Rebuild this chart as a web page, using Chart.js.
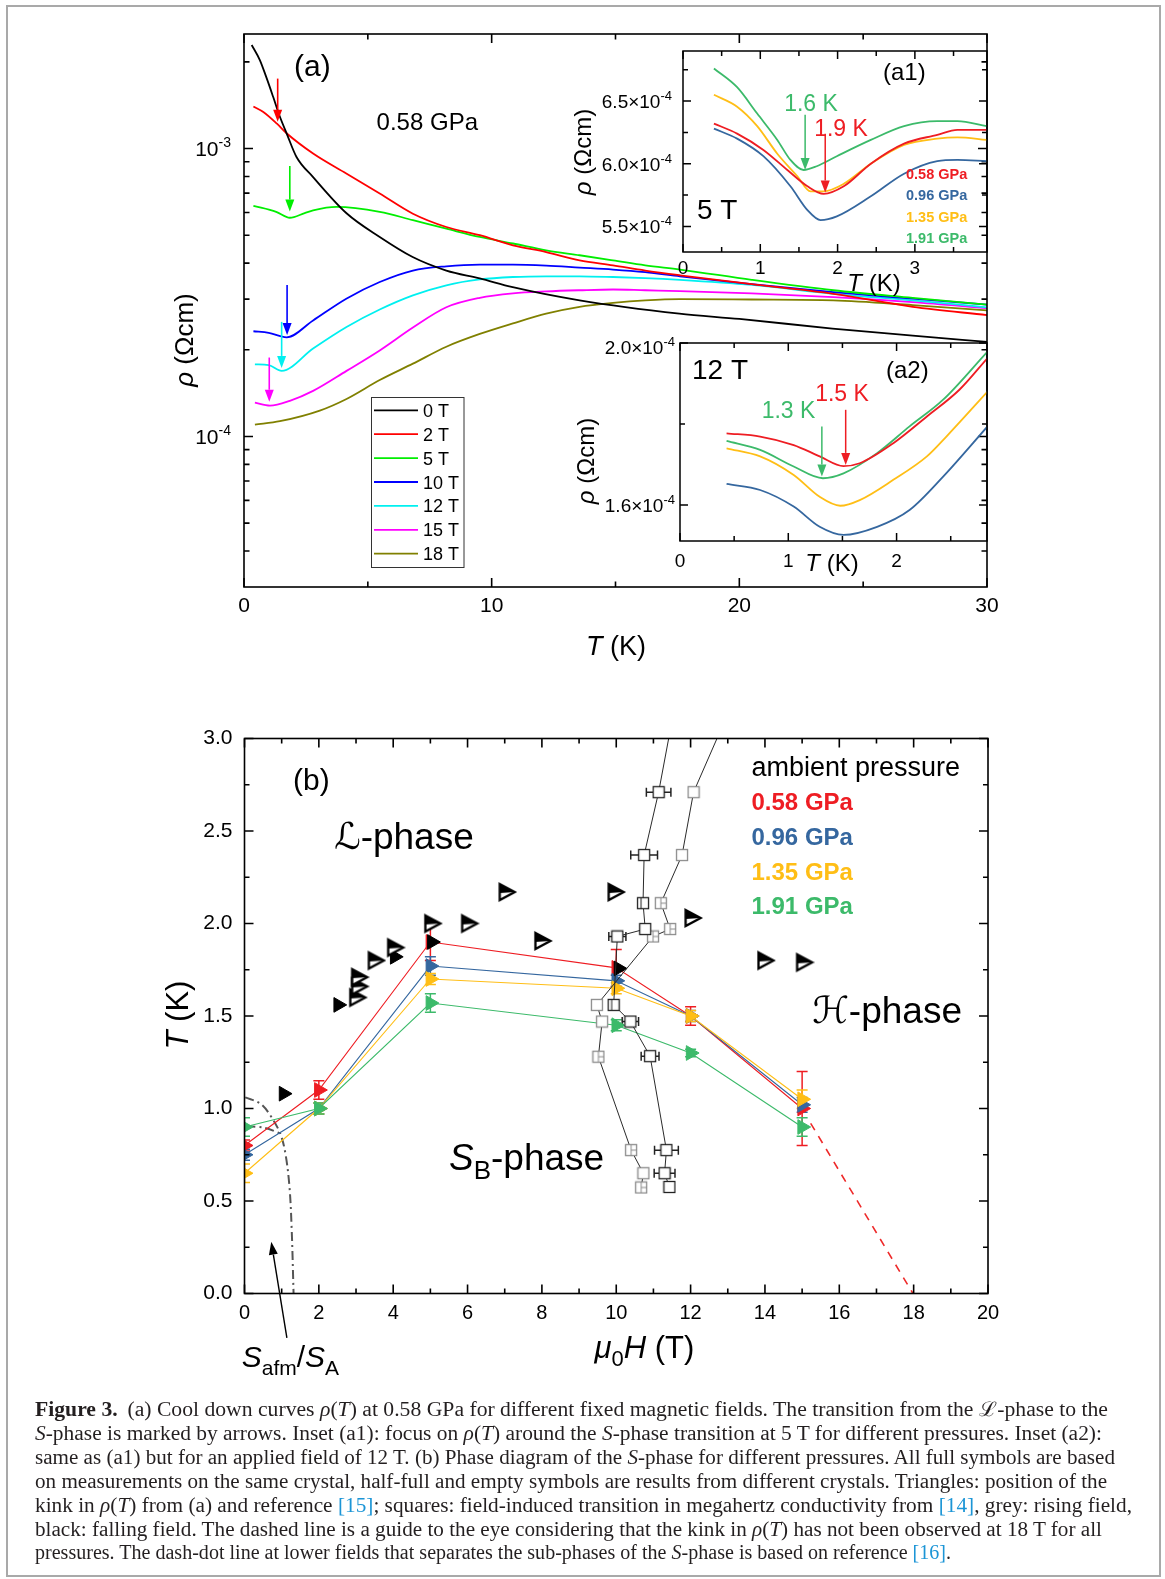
<!DOCTYPE html>
<html>
<head>
<meta charset="utf-8">
<script src="https://cdn.jsdelivr.net/npm/chart.js@4.4.1/dist/chart.umd.min.js"></script>
<style>
  html, body { margin: 0; padding: 0; background: #fff; }
  body { width: 1165px; height: 1579px; position: relative; overflow: hidden; }
  canvas { position: absolute; }
  #frame { position: absolute; left: 6px; top: 5px; width: 1151px; height: 1568px; border: 2px solid #a9a9a9; }
  .cap { position: absolute; left: 35px; white-space: nowrap; font: 20px "Liberation Serif", "Times New Roman", serif;
         color: #231f20; line-height: 20px; z-index: 5; transform-origin: 0 50%; }
  .cap .ref { color: #1c95d6; }
</style>
</head>
<body>
<div id="frame"></div>
<canvas id="chartA"></canvas>
<canvas id="chartA1"></canvas>
<canvas id="chartA2"></canvas>
<canvas id="chartB"></canvas>

<div class="cap" data-right="1108" style="top:1399px"><b>Figure 3.</b><span style="margin-left:9px"></span>(a) Cool down curves <i>ρ</i>(<i>T</i>) at 0.58 GPa for different fixed magnetic fields. The transition from the ℒ-phase to the</div>
<div class="cap" data-right="1102" style="top:1423px"><i>S</i>-phase is marked by arrows. Inset (a1): focus on <i>ρ</i>(<i>T</i>) around the <i>S</i>-phase transition at 5 T for different pressures. Inset (a2):</div>
<div class="cap" data-right="1115" style="top:1447px">same as (a1) but for an applied field of 12 T. (b) Phase diagram of the <i>S</i>-phase for different pressures. All full symbols are based</div>
<div class="cap" data-right="1107" style="top:1471px">on measurements on the same crystal, half-full and empty symbols are results from different crystals. Triangles: position of the</div>
<div class="cap" data-right="1132" style="top:1495px">kink in <i>ρ</i>(<i>T</i>) from (a) and reference <span class="ref">[15]</span>; squares: field-induced transition in megahertz conductivity from <span class="ref">[14]</span>, grey: rising field,</div>
<div class="cap" data-right="1102" style="top:1519px">black: falling field. The dashed line is a guide to the eye considering that the kink in <i>ρ</i>(<i>T</i>) has not been observed at 18 T for all</div>
<div class="cap" data-right="951" style="top:1542px">pressures. The dash-dot line at lower fields that separates the sub-phases of the <i>S</i>-phase is based on reference <span class="ref">[16]</span>.</div>

<script>
// ---------- (a) cool-down curves at 0.58 GPa: T in K, rho in Ohm cm ----------
const tA0 = [0.31, 0.64, 0.90, 1.18, 1.45, 1.72, 2.12, 2.79, 4.14, 5.48, 6.81, 8.17, 9.52, 10.85, 13.55, 17.58, 20.0, 23.76, 27.0, 30.0];
const rhoA0 = [2.29e-3, 2.03e-3, 1.77e-3, 1.51e-3, 1.29e-3, 1.13e-3, 9.35e-4, 7.96e-4, 5.96e-4, 4.93e-4, 4.20e-4, 3.77e-4, 3.54e-4, 3.30e-4, 2.97e-4, 2.67e-4, 2.56e-4, 2.37e-4, 2.24e-4, 2.13e-4];
const tA2 = [0.38, 0.78, 1.33, 1.72, 2.79, 4.13, 5.48, 6.82, 8.17, 9.52, 10.86, 12.2, 13.55, 14.9, 16.2, 17.6, 20.5, 23.8, 27.0, 30.0];
const rhoA2 = [1.40e-3, 1.34e-3, 1.22e-3, 1.13e-3, 9.61e-4, 8.19e-4, 6.98e-4, 5.94e-4, 5.34e-4, 5.00e-4, 4.61e-4, 4.37e-4, 4.09e-4, 3.93e-4, 3.77e-4, 3.63e-4, 3.38e-4, 3.13e-4, 2.82e-4, 2.64e-4];
const tA5 = [0.38, 1.30, 1.85, 2.45, 2.79, 3.73, 5.48, 6.82, 8.17, 9.52, 10.86, 12.2, 13.55, 14.9, 16.2, 17.6, 20.5, 23.8, 27.0, 30.0];
const rhoA5 = [6.32e-4, 6.03e-4, 5.75e-4, 5.97e-4, 6.10e-4, 6.27e-4, 6.03e-4, 5.64e-4, 5.27e-4, 4.93e-4, 4.68e-4, 4.43e-4, 4.26e-4, 4.09e-4, 3.93e-4, 3.80e-4, 3.50e-4, 3.22e-4, 3.03e-4, 2.87e-4];
const tA10 = [0.38, 1.0, 1.72, 2.79, 4.13, 5.48, 6.82, 8.17, 9.52, 10.86, 12.2, 13.55, 14.9, 16.2, 17.6, 20.5, 23.8, 27.0, 30.0];
const rhoA10 = [2.32e-4, 2.29e-4, 2.21e-4, 2.53e-4, 3.01e-4, 3.44e-4, 3.77e-4, 3.90e-4, 3.95e-4, 3.95e-4, 3.92e-4, 3.86e-4, 3.80e-4, 3.72e-4, 3.60e-4, 3.38e-4, 3.17e-4, 3.01e-4, 2.87e-4];
const tA12 = [0.44, 1.0, 1.52, 2.79, 4.14, 5.48, 6.82, 8.17, 9.52, 10.86, 12.2, 13.55, 14.9, 16.2, 17.6, 20.5, 23.8, 27.0, 30.0];
const rhoA12 = [1.78e-4, 1.77e-4, 1.69e-4, 2.02e-4, 2.40e-4, 2.76e-4, 3.09e-4, 3.35e-4, 3.51e-4, 3.58e-4, 3.60e-4, 3.60e-4, 3.58e-4, 3.55e-4, 3.50e-4, 3.36e-4, 3.13e-4, 2.97e-4, 2.81e-4];
const tA15 = [0.44, 1.05, 1.85, 2.79, 4.14, 5.48, 6.82, 8.17, 9.52, 10.86, 12.2, 13.55, 14.9, 16.2, 17.6, 20.5, 23.8, 27.0, 30.0];
const rhoA15 = [1.31e-4, 1.28e-4, 1.33e-4, 1.44e-4, 1.69e-4, 1.99e-4, 2.39e-4, 2.81e-4, 3.03e-4, 3.14e-4, 3.19e-4, 3.22e-4, 3.24e-4, 3.22e-4, 3.20e-4, 3.14e-4, 3.05e-4, 2.93e-4, 2.79e-4];
const tA18 = [0.44, 1.45, 3.06, 4.14, 5.48, 6.82, 8.17, 9.52, 10.86, 12.2, 13.55, 14.9, 16.2, 17.6, 20.5, 23.8, 27.0, 30.0];
const rhoA18 = [1.10e-4, 1.13e-4, 1.23e-4, 1.35e-4, 1.57e-4, 1.79e-4, 2.05e-4, 2.27e-4, 2.47e-4, 2.67e-4, 2.82e-4, 2.91e-4, 2.97e-4, 3.00e-4, 2.99e-4, 2.97e-4, 2.86e-4, 2.74e-4];
const fieldLabels = ['0 T', '2 T', '5 T', '10 T', '12 T', '15 T', '18 T'];
const tempsA = [tA0, tA2, tA5, tA10, tA12, tA15, tA18];
const rhosA = [rhoA0, rhoA2, rhoA5, rhoA10, rhoA12, rhoA15, rhoA18];
// arrows marking the L -> S transition (field index, T, tail rho, tip rho)
const arrowFieldA = [1, 2, 3, 4, 5];
const arrowTA = [1.36, 1.85, 1.74, 1.52, 1.02];
const arrowTailA = [1.75e-3, 8.7e-4, 3.36e-4, 2.5e-4, 1.88e-4];
const arrowTipA = [1.24e-3, 6.05e-4, 2.25e-4, 1.73e-4, 1.32e-4];
const xTicksA = [0, 10, 20, 30];
const xMinorA = [5, 15, 25];
const yTicksA = [1e-4, 1e-3];
const yMinorA = [4e-5, 5e-5, 6e-5, 7e-5, 8e-5, 9e-5, 2e-4, 3e-4, 4e-4, 5e-4, 6e-4, 7e-4, 8e-4, 9e-4, 2e-3];

// ---------- inset (a1): 5 T, rho in 1e-4 Ohm cm ----------
const pressureLabels = ['0.58 GPa', '0.96 GPa', '1.35 GPa', '1.91 GPa'];
const tA1p058 = [0.40, 0.70, 1.04, 1.35, 1.61, 1.82, 2.08, 2.43, 2.86, 3.29, 3.55, 3.93];
const rA1p058 = [6.32, 6.24, 6.11, 5.95, 5.82, 5.76, 5.82, 6.00, 6.16, 6.23, 6.27, 6.27];
const tA1p096 = [0.40, 0.70, 1.04, 1.39, 1.61, 1.78, 1.99, 2.43, 2.86, 3.29, 3.55, 3.93];
const rA1p096 = [6.28, 6.20, 6.06, 5.82, 5.63, 5.55, 5.58, 5.74, 5.92, 6.02, 6.03, 6.02];
const tA1p135 = [0.40, 0.70, 0.96, 1.22, 1.48, 1.65, 1.82, 2.08, 2.43, 2.86, 3.29, 3.55, 3.93];
const rA1p135 = [6.55, 6.455, 6.30, 6.08, 5.90, 5.78, 5.78, 5.84, 6.00, 6.15, 6.20, 6.21, 6.19];
const tA1p191 = [0.40, 0.70, 0.96, 1.22, 1.39, 1.56, 1.73, 1.99, 2.43, 2.86, 3.29, 3.55, 3.93];
const rA1p191 = [6.76, 6.61, 6.40, 6.19, 6.03, 5.95, 5.98, 6.06, 6.19, 6.30, 6.34, 6.34, 6.30];
const arrowTA1 = [1.58, 1.84];           // 1.91 GPa, 0.58 GPa
const arrowTailA1 = [6.39, 6.24];
const arrowTipA1 = [5.95, 5.77];
const xTicksA1 = [0, 1, 2, 3];
const xMinorA1 = [0.5, 1.5, 2.5, 3.5];
const yTicksA1 = [5.5, 6.0, 6.5];
const yMinorA1 = [5.75, 6.25, 6.75];

// ---------- inset (a2): 12 T, rho in 1e-4 Ohm cm ----------
const tA2p058 = [0.43, 0.74, 1.05, 1.29, 1.51, 1.66, 1.97, 2.28, 2.58, 2.84];
const rA2p058 = [1.777, 1.769, 1.748, 1.72, 1.696, 1.703, 1.7525, 1.8185, 1.8845, 1.963];
const tA2p096 = [0.43, 0.74, 1.05, 1.29, 1.51, 1.82, 2.12, 2.43, 2.84];
const rA2p096 = [1.652, 1.637, 1.596, 1.546, 1.526, 1.546, 1.5875, 1.67, 1.794];
const tA2p135 = [0.43, 0.74, 1.05, 1.29, 1.48, 1.66, 1.97, 2.28, 2.46, 2.84];
const rA2p135 = [1.74, 1.72, 1.674, 1.62, 1.598, 1.612, 1.662, 1.72, 1.769, 1.88];
const tA2p191 = [0.43, 0.74, 1.05, 1.32, 1.51, 1.82, 2.12, 2.43, 2.84];
const rA2p191 = [1.758, 1.736, 1.695, 1.666, 1.678, 1.728, 1.794, 1.86, 1.979];
const arrowTA2 = [1.31, 1.53];           // 1.91 GPa, 0.58 GPa
const arrowTailA2 = [1.794, 1.835];
const arrowTipA2 = [1.670, 1.699];
const xTicksA2 = [0, 1, 2];
const xMinorA2 = [0.5, 1.5, 2.5];
const yTicksA2 = [1.6, 2.0];
const yMinorA2 = [1.8];

// ---------- (b) phase diagram: field in T, temperature in K ----------
const fieldB = [0, 2, 5, 10, 12, 15];
const tc058 = [0.80, 1.10, 1.90, 1.76, 1.50, 1.00];
const err058 = [0.03, 0.05, 0.10, 0.10, 0.05, 0.20];
const tc096 = [0.75, 1.00, 1.77, 1.69, 1.50, 1.02];
const err096 = [0.03, 0.03, 0.05, 0.03, 0.03, 0.04];
const tc135 = [0.65, 1.00, 1.70, 1.65, 1.50, 1.05];
const err135 = [0.05, 0.03, 0.03, 0.03, 0.03, 0.05];
const tc191 = [0.90, 1.00, 1.57, 1.45, 1.30, 0.90];
const err191 = [0.05, 0.03, 0.05, 0.03, 0.02, 0.05];
// ambient pressure kink positions
const kinkFullH = [1.05, 2.52, 4.04, 5.04, 10.06];
const kinkFullT = [1.08, 1.56, 1.82, 1.90, 1.757];
const kinkHalfH = [3.02, 3.07, 3.07, 3.52, 4.04, 5.04, 6.03, 7.04, 8.0, 9.97, 12.04, 14.0, 15.04];
const kinkHalfT = [1.60, 1.66, 1.71, 1.80, 1.87, 2.00, 2.00, 2.17, 1.906, 2.17, 2.03, 1.80, 1.79];
// megahertz conductivity, rising field (grey) and falling field (black)
const riseH = [12.71, 12.08, 11.77, 11.20, 11.45, 10.99, 9.48, 9.62, 9.52, 10.40, 10.73, 10.67];
const riseT = [3.00, 2.71, 2.37, 2.11, 1.97, 1.93, 1.56, 1.47, 1.28, 0.775, 0.65, 0.573];
const riseKind = ['', 'sq', 'sq', 'grid', 'grid', 'grid', 'sq', 'sq', 'grid', 'grid', 'sq', 'grid'];
const fallH = [11.41, 11.14, 10.75, 10.72, 10.78, 10.03, 9.93, 10.38, 10.91, 11.35, 11.30, 11.43];
const fallT = [3.00, 2.71, 2.37, 2.11, 1.97, 1.93, 1.56, 1.47, 1.283, 0.775, 0.65, 0.576];
const fallErrH = [0, 0.33, 0.36, 0, 0.12, 0.23, 0, 0.22, 0.24, 0.32, 0.28, 0];
const fallKind = ['', 'sq', 'sq', 'split', 'sq', 'sq', 'split', 'sq', 'sq', 'sq', 'sq', 'sq'];
// S_afm / S_A boundary (dash-dot) and the dashed guide to 18 T
const safmH = [0.02, 0.42, 0.69, 0.96, 1.10, 1.21, 1.27, 1.32];
const safmT = [1.06, 1.027, 0.964, 0.865, 0.757, 0.576, 0.342, 0.0];
const safmBranchH = [0.05, 0.55, 0.96];
const safmBranchT = [0.905, 0.895, 0.865];
const guideH = [15.23, 17.98];
const guideT = [0.92, 0.0];
const xTicksB = [0, 2, 4, 6, 8, 10, 12, 14, 16, 18, 20];
const xMinorB = [1, 3, 5, 7, 9, 11, 13, 15, 17, 19];
const yTicksB = [0, 0.5, 1.0, 1.5, 2.0, 2.5, 3.0];
const yMinorB = [0.25, 0.75, 1.25, 1.75, 2.25, 2.75];

// ---------- styling ----------
const F = '"Liberation Sans", Arial, sans-serif';
const SCRIPT = '"DejaVu Serif", "DejaVu Sans", serif';
const font = (s, w) => (w ? w + ' ' : '') + s + 'px ' + F;
const fieldColors = ['#000000', '#ff0000', '#00ee00', '#0000ff', '#00f0f0', '#ff00ff', '#808000'];
const pColors = ['#ee1d23', '#35679f', '#ffbe16', '#3cba6a'];

const pts = (xs, ys) => xs.map((x, i) => ({ x, y: ys[i] }));

function place(id, box) {
  const c = document.getElementById(id);
  c.width = box.w; c.height = box.h;
  c.style.left = box.left + 'px'; c.style.top = box.top + 'px';
  c.style.width = box.w + 'px'; c.style.height = box.h + 'px';
  return c;
}

// options with a fixed plot rectangle (page coordinates in area)
function baseOptions(box, area, x, y) {
  return {
    responsive: false, animation: false, devicePixelRatio: 1,
    layout: { padding: { top: area.t - box.top, right: box.left + box.w - area.r, left: 0, bottom: 0 } },
    plugins: { legend: { display: false }, tooltip: { enabled: false } },
    scales: {
      x: Object.assign({ type: 'linear', position: 'bottom', grid: { display: false, drawTicks: false },
        border: { display: false }, afterFit: s => { s.height = box.top + box.h - area.b; } }, x),
      y: Object.assign({ type: 'linear', position: 'left', grid: { display: false, drawTicks: false },
        border: { display: false }, afterFit: s => { s.width = area.l - box.left; } }, y)
    }
  };
}
const fixTicks = vals => s => { s.ticks = vals.map(v => ({ value: v })); };

// box around the plot with inward ticks on all four sides
function framePlugin(o) {
  return {
    id: 'frame',
    afterDatasetsDraw(chart) {
      const { ctx, chartArea: a, scales: { x, y } } = chart;
      ctx.save();
      ctx.strokeStyle = '#000';
      ctx.lineWidth = o.lw;
      ctx.strokeRect(a.left, a.top, a.right - a.left, a.bottom - a.top);
      ctx.beginPath();
      const tx = (vals, len) => vals.forEach(v => {
        const p = x.getPixelForValue(v);
        ctx.moveTo(p, a.bottom); ctx.lineTo(p, a.bottom - len);
        ctx.moveTo(p, a.top); ctx.lineTo(p, a.top + len);
      });
      const ty = (vals, len) => vals.forEach(v => {
        const p = y.getPixelForValue(v);
        ctx.moveTo(a.left, p); ctx.lineTo(a.left + len, p);
        ctx.moveTo(a.right, p); ctx.lineTo(a.right - len, p);
      });
      tx(o.xMajor, o.major); tx(o.xMinor, o.minor);
      ty(o.yMajor, o.major); ty(o.yMinor, o.minor);
      ctx.stroke();
      ctx.restore();
    }
  };
}

// text made of runs: [text, font, dy, color]
function rich(ctx, parts, x, y, align) {
  let w = 0;
  parts.forEach(p => { ctx.font = p[1]; w += ctx.measureText(p[0]).width; });
  let cx = align === 'center' ? x - w / 2 : align === 'right' ? x - w : x;
  ctx.textAlign = 'left';
  ctx.textBaseline = 'alphabetic';
  parts.forEach(p => {
    ctx.font = p[1];
    ctx.fillStyle = p[3] || '#000';
    ctx.fillText(p[0], cx, y + (p[2] || 0));
    cx += ctx.measureText(p[0]).width;
  });
}

function rotated(ctx, parts, cx, cy, dy) {
  ctx.save();
  ctx.translate(cx, cy);
  ctx.rotate(-Math.PI / 2);
  rich(ctx, parts, 0, dy, 'center');
  ctx.restore();
}

function arrow(ctx, x0, y0, x1, y1, color, head, hw, lw) {
  const ang = Math.atan2(y1 - y0, x1 - x0);
  const bx = x1 - Math.cos(ang) * head, by = y1 - Math.sin(ang) * head;
  ctx.strokeStyle = color; ctx.fillStyle = color; ctx.lineWidth = lw;
  ctx.beginPath(); ctx.moveTo(x0, y0); ctx.lineTo(bx, by); ctx.stroke();
  ctx.beginPath(); ctx.moveTo(x1, y1);
  ctx.lineTo(bx + Math.sin(ang) * hw, by - Math.cos(ang) * hw);
  ctx.lineTo(bx - Math.sin(ang) * hw, by + Math.cos(ang) * hw);
  ctx.closePath(); ctx.fill();
}

// ---------- panel (a) ----------
const boxA = { left: 140, top: 20, w: 872, h: 650 };
const areaA = { l: 244, t: 34, r: 987, b: 587 };

const textA = {
  id: 'textA',
  afterDraw(chart) {
    const { ctx, scales: { x, y } } = chart;
    ctx.save();
    yTicksA.forEach(v => {
      const yy = y.getPixelForValue(v) + 21 * 0.36;
      rich(ctx, [['10', font(21)], ['-' + Math.round(-Math.log10(v)), font(14), -9]], 231 - boxA.left, yy, 'right');
    });
    ctx.translate(-boxA.left, -boxA.top);
    rich(ctx, [['(a)', font(30)]], 294, 76);
    rich(ctx, [['0.58 GPa', font(24)]], 376.6, 129.5);
    rich(ctx, [['T', font(27, 'italic')], [' (K)', font(27)]], 616, 655, 'center');
    rotated(ctx, [['ρ', font(26, 'italic')], [' (Ωcm)', font(26)]], 186, 340, 7);
    // legend
    ctx.strokeStyle = '#333'; ctx.lineWidth = 1;
    ctx.strokeRect(371.5, 397.5, 92.5, 170);
    fieldLabels.forEach((lab, i) => {
      const cy = 410.3 + i * 23.9;
      ctx.strokeStyle = fieldColors[i]; ctx.lineWidth = 1.8;
      ctx.beginPath(); ctx.moveTo(374, cy); ctx.lineTo(418, cy); ctx.stroke();
      rich(ctx, [[lab, font(18)]], 423, cy + 6.5);
    });
    ctx.translate(boxA.left, boxA.top);
    arrowTA.forEach((t, i) => {
      const px = x.getPixelForValue(t);
      arrow(ctx, px, y.getPixelForValue(arrowTailA[i]), px, y.getPixelForValue(arrowTipA[i]),
        fieldColors[arrowFieldA[i]], 12, 4.5, 1.6);
    });
    ctx.restore();
  }
};

new Chart(place('chartA', boxA), {
  type: 'line',
  data: {
    datasets: fieldLabels.map((lab, i) => ({
      label: lab, data: pts(tempsA[i], rhosA[i]), borderColor: fieldColors[i],
      borderWidth: 1.8, pointRadius: 0, cubicInterpolationMode: 'monotone'
    }))
  },
  options: baseOptions(boxA, areaA,
    { min: 0, max: 30, afterBuildTicks: fixTicks(xTicksA),
      ticks: { font: { family: F, size: 21 }, color: '#000', padding: 7, maxRotation: 0 } },
    { type: 'logarithmic', min: 3e-5, max: 2.5e-3, afterBuildTicks: fixTicks(yTicksA), ticks: { display: false } }),
  plugins: [framePlugin({ lw: 1.6, major: 9, minor: 5.5, xMajor: xTicksA, xMinor: xMinorA, yMajor: yTicksA, yMinor: yMinorA }), textA]
});

// ---------- inset (a1) ----------
const boxA1 = { left: 560, top: 40, w: 430, h: 260 };
const areaA1 = { l: 683, t: 51, r: 987, b: 252 };
const textA1 = {
  id: 'textA1',
  afterDraw(chart) {
    const { ctx, scales: { x, y } } = chart;
    ctx.save();
    yTicksA1.forEach(v => {
      const yy = y.getPixelForValue(v) + 19 * 0.36;
      rich(ctx, [[v.toFixed(1) + '×10', font(19)], ['-4', font(13), -8]], 672 - boxA1.left, yy, 'right');
    });
    const idx = [3, 0];
    arrowTA1.forEach((t, i) => {
      const px = x.getPixelForValue(t);
      arrow(ctx, px, y.getPixelForValue(arrowTailA1[i]), px, y.getPixelForValue(arrowTipA1[i]), pColors[idx[i]], 12, 4.5, 1.5);
    });
    ctx.translate(-boxA1.left, -boxA1.top);
    rich(ctx, [['(a1)', font(24)]], 883, 80);
    rich(ctx, [['5 T', font(28)]], 697, 218.5);
    rich(ctx, [['1.6 K', font(23), 0, pColors[3]]], 811, 111, 'center');
    rich(ctx, [['1.9 K', font(23), 0, pColors[0]]], 841, 136, 'center');
    pressureLabels.forEach((lab, i) => rich(ctx, [[lab, font(14.5, 'bold'), 0, pColors[i]]], 906, 179 + i * 21.4));
    rich(ctx, [['T', font(24, 'italic')], [' (K)', font(24)]], 874, 291, 'center');
    rotated(ctx, [['ρ', font(24, 'italic')], [' (Ωcm)', font(24)]], 584, 152, 7);
    ctx.restore();
  }
};
new Chart(place('chartA1', boxA1), {
  type: 'line',
  data: {
    datasets: [[tA1p058, rA1p058], [tA1p096, rA1p096], [tA1p135, rA1p135], [tA1p191, rA1p191]].map((s, i) => ({
      label: pressureLabels[i], data: pts(s[0], s[1]), borderColor: pColors[i], borderWidth: 1.8,
      pointRadius: 0, cubicInterpolationMode: 'monotone'
    }))
  },
  options: baseOptions(boxA1, areaA1,
    { min: 0, max: 3.933, afterBuildTicks: fixTicks(xTicksA1),
      ticks: { font: { family: F, size: 19 }, color: '#000', padding: 5, maxRotation: 0 } },
    { min: 5.296, max: 6.899, afterBuildTicks: fixTicks(yTicksA1), ticks: { display: false } }),
  plugins: [framePlugin({ lw: 1.5, major: 8, minor: 5, xMajor: xTicksA1, xMinor: xMinorA1, yMajor: yTicksA1, yMinor: yMinorA1 }), textA1]
});

// ---------- inset (a2) ----------
const boxA2 = { left: 560, top: 330, w: 430, h: 260 };
const areaA2 = { l: 680, t: 343, r: 987, b: 541 };
const textA2 = {
  id: 'textA2',
  afterDraw(chart) {
    const { ctx, scales: { x, y } } = chart;
    ctx.save();
    yTicksA2.forEach(v => {
      const yy = y.getPixelForValue(v) + 19 * 0.36 + (v === 2.0 ? 4 : 0);
      rich(ctx, [[v.toFixed(1) + '×10', font(19)], ['-4', font(13), -8]], 675 - boxA2.left, yy, 'right');
    });
    const idx = [3, 0];
    arrowTA2.forEach((t, i) => {
      const px = x.getPixelForValue(t);
      arrow(ctx, px, y.getPixelForValue(arrowTailA2[i]), px, y.getPixelForValue(arrowTipA2[i]), pColors[idx[i]], 12, 4.5, 1.5);
    });
    ctx.translate(-boxA2.left, -boxA2.top);
    rich(ctx, [['12 T', font(28)]], 692, 378.5);
    rich(ctx, [['(a2)', font(24)]], 886, 378);
    rich(ctx, [['1.3 K', font(23), 0, pColors[3]]], 788.5, 418, 'center');
    rich(ctx, [['1.5 K', font(23), 0, pColors[0]]], 842, 401, 'center');
    rich(ctx, [['T', font(24, 'italic')], [' (K)', font(24)]], 832, 571, 'center');
    rotated(ctx, [['ρ', font(24, 'italic')], [' (Ωcm)', font(24)]], 587, 461, 7);
    ctx.restore();
  }
};
new Chart(place('chartA2', boxA2), {
  type: 'line',
  data: {
    datasets: [[tA2p058, rA2p058], [tA2p096, rA2p096], [tA2p135, rA2p135], [tA2p191, rA2p191]].map((s, i) => ({
      label: pressureLabels[i], data: pts(s[0], s[1]), borderColor: pColors[i], borderWidth: 1.8,
      pointRadius: 0, cubicInterpolationMode: 'monotone'
    }))
  },
  options: baseOptions(boxA2, areaA2,
    { min: 0, max: 2.835, afterBuildTicks: fixTicks(xTicksA2),
      ticks: { font: { family: F, size: 19 }, color: '#000', padding: 9, maxRotation: 0 } },
    { min: 1.511, max: 2.0, afterBuildTicks: fixTicks(yTicksA2), ticks: { display: false } }),
  plugins: [framePlugin({ lw: 1.5, major: 8, minor: 5, xMajor: xTicksA2, xMinor: xMinorA2, yMajor: yTicksA2, yMinor: yMinorA2 }), textA2]
});

// ---------- panel (b) ----------
function mark(size, paint) {
  const c = document.createElement('canvas');
  c.width = c.height = size;
  paint(c.getContext('2d'), size / 2);
  return c;
}
const halfTriangle = mark(22, (g, m) => {
  const L = m - 6.5, R = m + 8.5, T = m - 8, B = m + 8;
  const tri = () => { g.beginPath(); g.moveTo(L, T); g.lineTo(R, m); g.lineTo(L, B); g.closePath(); };
  tri(); g.fillStyle = '#fff'; g.fill();
  g.beginPath(); g.moveTo(L, T); g.lineTo(R, m); g.lineTo(L, m + 1); g.closePath();
  g.fillStyle = '#000'; g.fill();
  tri(); g.lineJoin = 'miter'; g.lineWidth = 2.3; g.strokeStyle = '#000'; g.stroke();
});
function squareMark(color, kind) {
  return mark(14, (g, m) => {
    const h = 5.5;
    g.fillStyle = '#fff'; g.fillRect(m - h, m - h, 2 * h, 2 * h);
    g.strokeStyle = color; g.lineWidth = 1.3;
    g.strokeRect(m - h, m - h, 2 * h, 2 * h);
    g.lineWidth = 1;
    g.beginPath();
    if (kind === 'grid') { g.moveTo(m, m - h); g.lineTo(m, m + h); g.moveTo(m, m); g.lineTo(m + h, m); }
    if (kind === 'split') { g.moveTo(m - 2, m - h); g.lineTo(m - 2, m + h); }
    g.stroke();
  });
}
const greySq = { sq: squareMark('#8c8c8c'), grid: squareMark('#8c8c8c', 'grid') };
const blackSq = { sq: squareMark('#222'), split: squareMark('#222', 'split') };

const errorBars = {
  id: 'errorBars',
  beforeDatasetsDraw(chart) {
    const { ctx, chartArea: a, scales: { x, y } } = chart;
    ctx.save();
    ctx.beginPath(); ctx.rect(a.left, a.top, a.right - a.left, a.bottom - a.top); ctx.clip();
    chart.data.datasets.forEach(ds => {
      if (!ds.yErr && !ds.xErr) return;
      ctx.strokeStyle = ds.errColor || ds.borderColor;
      ctx.lineWidth = 1.5;
      ctx.beginPath();
      ds.data.forEach((p, i) => {
        const px = x.getPixelForValue(p.x), py = y.getPixelForValue(p.y);
        const ey = ds.yErr ? ds.yErr[i] : 0, ex = ds.xErr ? ds.xErr[i] : 0;
        if (ey) {
          const t = y.getPixelForValue(p.y + ey), b = y.getPixelForValue(p.y - ey);
          ctx.moveTo(px, t); ctx.lineTo(px, b);
          ctx.moveTo(px - 5.5, t); ctx.lineTo(px + 5.5, t);
          ctx.moveTo(px - 5.5, b); ctx.lineTo(px + 5.5, b);
        }
        if (ex) {
          const l = x.getPixelForValue(p.x - ex), r = x.getPixelForValue(p.x + ex);
          ctx.moveTo(l, py); ctx.lineTo(r, py);
          ctx.moveTo(l, py - 4.5); ctx.lineTo(l, py + 4.5);
          ctx.moveTo(r, py - 4.5); ctx.lineTo(r, py + 4.5);
        }
      });
      ctx.stroke();
    });
    ctx.restore();
  }
};

const boxB = { left: 140, top: 700, w: 873, h: 700 };
const areaB = { l: 244.5, t: 738.5, r: 988, b: 1293.5 };
const textB = {
  id: 'textB',
  afterDraw(chart) {
    const { ctx, scales: { x, y } } = chart;
    ctx.save();
    // pointer from the S_afm/S_A label into the low-field corner
    arrow(ctx, x.getPixelForValue(1.14), y.getPixelForValue(-0.24), x.getPixelForValue(0.72), y.getPixelForValue(0.28), '#000', 13, 4.5, 1.4);
    ctx.translate(-boxB.left, -boxB.top);
    rich(ctx, [['(b)', font(30)]], 293, 790);
    rich(ctx, [['ℒ', 'italic 37px ' + SCRIPT], ['-phase', font(37)]], 334, 849);
    rich(ctx, [['ℋ', 'italic 37px ' + SCRIPT], ['-phase', font(37)]], 962, 1023, 'right');
    rich(ctx, [['S', font(37, 'italic')], ['B', font(26), 9], ['-phase', font(37)]], 449, 1170);
    rich(ctx, [['S', font(30, 'italic')], ['afm', font(21), 8], ['/', font(30)], ['S', font(30, 'italic')], ['A', font(21), 8]], 241.7, 1367);
    rich(ctx, [['ambient pressure', font(27)]], 751.5, 776);
    pressureLabels.forEach((lab, i) => rich(ctx, [[lab, font(24, 'bold'), 0, pColors[i]]], 751.5, 810.2 + i * 34.7));
    rich(ctx, [['μ', font(31, 'italic')], ['0', font(22), 8], ['H', font(31, 'italic')], [' (T)', font(31)]], 644.4, 1358, 'center');
    rotated(ctx, [['T', font(31, 'italic')], [' (K)', font(31)]], 179, 1015, 9);
    ctx.restore();
  }
};

const pressureSets = [[tc058, err058], [tc096, err096], [tc135, err135], [tc191, err191]];
const datasetsB = [
  { data: pts(safmH, safmT), borderColor: '#555', borderWidth: 2, borderDash: [9, 4, 2, 4],
    pointRadius: 0, tension: 0.35, order: 30 },
  { data: pts(safmBranchH, safmBranchT), borderColor: '#555', borderWidth: 2, borderDash: [9, 4, 2, 4],
    pointRadius: 0, tension: 0.3, order: 29 },
  { data: pts(guideH, guideT), borderColor: '#ee2a2a', borderWidth: 1.6, borderDash: [8, 7], pointRadius: 0, order: 28 },
  ...pressureSets.map((s, i) => ({
    label: pressureLabels[i], data: pts(fieldB, s[0]), yErr: s[1],
    borderColor: pColors[i], backgroundColor: pColors[i], borderWidth: 1.1,
    pointStyle: 'triangle', pointRotation: 90, pointRadius: 8.5, pointBorderWidth: 1, order: 20 - i
  })),
  { label: 'kink', data: pts(kinkFullH, kinkFullT), showLine: false, pointStyle: 'triangle', pointRotation: 90,
    pointRadius: 8.5, backgroundColor: '#000', borderColor: '#000', order: 12 },
  { label: 'kink other crystal', data: pts(kinkHalfH, kinkHalfT), showLine: false, pointStyle: halfTriangle,
    pointRadius: 6, order: 11 },
  { label: 'rising field', data: pts(riseH, riseT), borderColor: '#2a2a2a', borderWidth: 1,
    pointStyle: riseKind.map(k => greySq[k] || 'circle'), pointRadius: riseKind.map(k => (k ? 6 : 0)), order: 10 },
  { label: 'falling field', data: pts(fallH, fallT), xErr: fallErrH, errColor: '#222', borderColor: '#2a2a2a', borderWidth: 1,
    pointStyle: fallKind.map(k => blackSq[k] || 'circle'), pointRadius: fallKind.map(k => (k ? 6 : 0)), order: 9 }
];

new Chart(place('chartB', boxB), {
  type: 'line',
  data: { datasets: datasetsB },
  options: baseOptions(boxB, areaB,
    { min: 0, max: 20, afterBuildTicks: fixTicks(xTicksB),
      ticks: { font: { family: F, size: 20 }, color: '#000', padding: 8, maxRotation: 0 } },
    { min: 0, max: 3, afterBuildTicks: fixTicks(yTicksB),
      ticks: { font: { family: F, size: 21 }, color: '#000', padding: 12, callback: v => v.toFixed(1) } }),
  plugins: [errorBars, framePlugin({ lw: 1.6, major: 9, minor: 5, xMajor: xTicksB, xMinor: xMinorB, yMajor: yTicksB, yMinor: yMinorB }), textB]
});

// stretch each caption line horizontally to its measured right edge
document.querySelectorAll('.cap').forEach(el => {
  const right = +el.dataset.right;
  const w = el.getBoundingClientRect().width;
  el.style.transform = 'scaleX(' + ((right - 35) / w).toFixed(4) + ')';
});
</script>
</body>
</html>
